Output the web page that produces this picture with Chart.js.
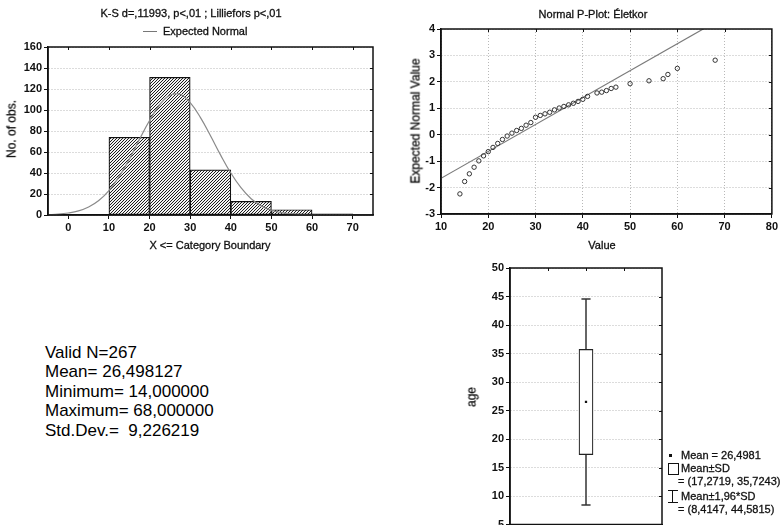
<!DOCTYPE html>
<html>
<head>
<meta charset="utf-8">
<script src="https://cdn.jsdelivr.net/npm/chart.js@4.4.1/dist/chart.umd.min.js"></script>
<style>
  html, body { margin:0; padding:0; background:#fff; width:780px; height:525px; overflow:hidden; position:relative;
    font-family:'Liberation Sans', Arial, sans-serif; color:#111; }
  canvas { position:absolute; display:block; }
  .t { position:absolute; font-size:11px; white-space:pre; line-height:13px; -webkit-text-stroke:0.3px #111; }
  .c { transform:translate(-50%,-50%); }
  .rot { transform:translate(-50%,-50%) rotate(-90deg); font-size:12px; }
  .stats { position:absolute; left:45px; top:343px; font-size:17px; line-height:19.4px; white-space:pre; color:#000; }
  .sym { position:absolute; }
</style>
</head>
<body>

<canvas id="hist" width="390" height="250" style="left:0;top:0"></canvas>
<canvas id="pplot" width="380" height="250" style="left:400px;top:0"></canvas>
<canvas id="boxp" width="380" height="310" style="left:400px;top:250px"></canvas>

<!-- histogram texts -->
<div class="t c" style="left:191px;top:13px">K-S d=,11993, p&lt;,01 ; Lilliefors p&lt;,01</div>
<div class="sym" style="left:143px;top:31px;width:14px;border-top:1px solid #777"></div>
<div class="t" style="left:163px;top:25px">Expected Normal</div>
<div class="t rot" style="left:12px;top:129px">No. of obs.</div>
<div class="t c" style="left:210px;top:245px">X &lt;= Category Boundary</div>

<!-- p-plot texts -->
<div class="t c" style="left:593px;top:14px">Normal P-Plot: Életkor</div>
<div class="t rot" style="left:416px;top:121px">Expected Normal Value</div>
<div class="t c" style="left:602px;top:245px">Value</div>

<!-- box plot texts -->
<div class="t rot" style="left:472px;top:397px">age</div>
<div class="sym" style="left:669px;top:454px;width:3px;height:3px;background:#111"></div>
<div class="t" style="left:681px;top:449px">Mean = 26,4981</div>
<div class="sym" style="left:668px;top:463px;width:9px;height:10px;border:1px solid #111"></div>
<div class="t" style="left:681px;top:462px">Mean±SD</div>
<div class="t" style="left:678px;top:475px">= (17,2719, 35,7243)</div>
<div class="sym" style="left:672px;top:490px;width:0;height:12px;border-left:1.5px solid #111"></div>
<div class="sym" style="left:668px;top:490px;width:10px;border-top:1.5px solid #111"></div>
<div class="sym" style="left:668px;top:502px;width:10px;border-top:1.5px solid #111"></div>
<div class="t" style="left:681px;top:490px">Mean±1,96*SD</div>
<div class="t" style="left:678px;top:503px">= (8,4147, 44,5815)</div>

<!-- descriptive stats -->
<div class="stats">Valid N=267
Mean= 26,498127
Minimum= 14,000000
Maximum= 68,000000
Std.Dev.=  9,226219</div>

<script>
// ─── data ───────────────────────────────────────────────────────
// histogram: bin centres (10-wide bins) and counts
const histBins   = [15, 25, 35, 45, 55, 65]
const histCounts = [74, 131, 43, 13, 5, 1]
const histTicksX = [0, 10, 20, 30, 40, 50, 60, 70]

// expected normal curve
const normX = [-5, -2.5, 0, 2.5, 5, 7.5, 10, 12.5, 15, 17.5, 20, 22.5, 25, 27.5, 30, 32.5, 35, 37.5, 40, 42.5, 45, 47.5, 50, 52.5, 55, 60, 65, 70, 75]
const normY = [0.3, 0.8, 1.9, 3.9, 7.6, 13.8, 23.3, 36.5, 53, 72, 90, 105, 114, 115, 107, 93, 75.5, 57, 40, 26, 15.5, 8.7, 4.5, 2.2, 1, 0.2, 0, 0, 0]

// normal probability plot
const ppX = [14, 15, 16, 17, 18, 19, 20, 21, 22, 23, 24, 25, 26, 27, 28, 29, 30, 31, 32, 33, 34, 35, 36, 37, 38, 39, 40, 41, 43, 44, 45, 46, 47, 50, 54, 57, 58, 60, 68]
const ppY = [-2.24, -1.77, -1.48, -1.23, -0.99, -0.80, -0.64, -0.48, -0.33, -0.18, -0.05, 0.06, 0.16, 0.24, 0.36, 0.46, 0.66, 0.73, 0.79, 0.85, 0.94, 1.01, 1.07, 1.13, 1.19, 1.26, 1.34, 1.45, 1.58, 1.61, 1.67, 1.75, 1.80, 1.93, 2.04, 2.12, 2.28, 2.51, 2.82]
const refLineX = [10, 80]
const refLineY = [-1.65, 5.48]

// box plot (age)
const boxMean  = 26.4981
const boxSD    = [17.2719, 35.7243]
const boxWhisk = [8.4147, 44.5815]

// ─── shared bits ────────────────────────────────────────────────
const FONT = { family: "'Liberation Sans', Arial, sans-serif", size: 11, weight: 'bold' }
const INK  = '#111'

// black frame round the plot area, plus short inner ticks on top/right
const framePlugin = {
  id: 'frame',
  afterDraw(chart) {
    const { ctx, chartArea: a, scales } = chart
    ctx.save()
    ctx.strokeStyle = INK
    ctx.lineWidth = 1.5
    ctx.strokeRect(a.left, a.top, a.right - a.left, a.bottom - a.top)
    ctx.lineWidth = 1
    ctx.beginPath()
    scales.x.ticks.forEach(t => {
      const px = Math.round(scales.x.getPixelForValue(t.value)) + 0.5
      if (px > a.left + 2 && px < a.right - 2) { ctx.moveTo(px, a.top); ctx.lineTo(px, a.top + 3) }
    })
    scales.y.ticks.forEach(t => {
      const py = Math.round(scales.y.getPixelForValue(t.value)) + 0.5
      if (py > a.top + 2 && py < a.bottom - 2) { ctx.moveTo(a.right, py); ctx.lineTo(a.right - 3, py) }
    })
    ctx.stroke()
    ctx.restore()
  }
}

// dense "////" hatching like the original bars
function hatch() {
  const n = 3
  const c = document.createElement('canvas')
  c.width = n; c.height = n
  const g = c.getContext('2d')
  g.fillStyle = '#f4f4f4'; g.fillRect(0, 0, n, n)
  g.strokeStyle = '#1e1e1e'; g.lineWidth = 1
  g.beginPath()
  g.moveTo(0, n); g.lineTo(n, 0)
  g.moveTo(-1, 1); g.lineTo(1, -1)
  g.moveTo(n - 1, n + 1); g.lineTo(n + 1, n - 1)
  g.stroke()
  return g.createPattern(c, 'repeat')
}

function axis(extra) {
  return Object.assign({
    offset: false,
    ticks: { color: INK, font: FONT, padding: 2 },
    grid: { color: '#b8b8b8', tickColor: INK, tickLength: 4, tickWidth: 1, offset: false },
    border: { display: true, color: INK, width: 1.5, dash: [1, 2] },
  }, extra)
}

const base = {
  responsive: false,
  animation: false,
  events: [],
  plugins: { legend: { display: false }, tooltip: { enabled: false } },
}

// ─── HISTOGRAM ──────────────────────────────────────────────────
new Chart(document.getElementById('hist'), {
  type: 'bar',
  data: {
    datasets: [
      {
        type: 'line',
        data: normX.map((x, i) => ({ x, y: normY[i] })),
        borderColor: '#8a8a8a', borderWidth: 1.2, pointRadius: 0, tension: 0.4,
      },
      {
        data: histBins.map((x, i) => ({ x, y: histCounts[i] })),
        backgroundColor: hatch(), borderColor: INK, borderWidth: 1.2, borderSkipped: false,
        barPercentage: 1, categoryPercentage: 1,
      },
    ]
  },
  options: Object.assign({}, base, {
    layout: { padding: { top: 47, right: 17, left: 0, bottom: 0 } },
    scales: {
      x: axis({
        type: 'linear', min: -5, max: 75,
        afterFit: s => { s.height = 35 },
        afterBuildTicks: s => { s.ticks = histTicksX.map(v => ({ value: v })) },
        grid: { drawOnChartArea: false, tickColor: INK, tickLength: 4, offset: false },
      }),
      y: axis({
        min: 0, max: 160,
        afterFit: s => { s.width = 48 },
        ticks: { color: INK, font: FONT, padding: 2, stepSize: 20 },
      }),
    }
  }),
  plugins: [framePlugin]
})

// ─── NORMAL P-PLOT ──────────────────────────────────────────────
new Chart(document.getElementById('pplot'), {
  type: 'scatter',
  data: {
    datasets: [
      {
        data: ppX.map((x, i) => ({ x, y: ppY[i] })),
        pointRadius: 2.2, borderWidth: 1, borderColor: '#333', backgroundColor: 'rgba(0,0,0,0)',
      },
      {
        type: 'line',
        data: refLineX.map((x, i) => ({ x, y: refLineY[i] })),
        borderColor: '#7a7a7a', borderWidth: 1.2, pointRadius: 0,
      },
    ]
  },
  options: Object.assign({}, base, {
    layout: { padding: { top: 29, right: 7, left: 0, bottom: 0 } },
    scales: {
      x: axis({
        type: 'linear', min: 10, max: 80,
        afterFit: s => { s.height = 36 },
        ticks: { color: INK, font: FONT, padding: 2, stepSize: 10 },
      }),
      y: axis({
        min: -3, max: 4,
        afterFit: s => { s.width = 41 },
        ticks: { color: INK, font: FONT, padding: 2, stepSize: 1 },
      }),
    }
  }),
  plugins: [framePlugin]
})

// ─── BOX PLOT ───────────────────────────────────────────────────
const capHalf = 0.12
new Chart(document.getElementById('boxp'), {
  type: 'bar',
  data: {
    datasets: [
      {
        type: 'scatter',
        data: [{ x: 2, y: boxMean }],
        pointStyle: 'rect', pointRadius: 1.6, backgroundColor: INK, borderColor: INK, borderWidth: 0,
      },
      {
        data: [{ x: 2, y: boxSD }],
        backgroundColor: '#fff', borderColor: '#222', borderWidth: 1.2, borderSkipped: false,
        barThickness: 14,
      },
      {
        type: 'line',
        data: [{ x: 2, y: boxWhisk[0] }, { x: 2, y: boxWhisk[1] }],
        borderColor: '#333', borderWidth: 1.5, pointRadius: 0,
      },
      {
        type: 'line',
        data: [{ x: 2 - capHalf, y: boxWhisk[1] }, { x: 2 + capHalf, y: boxWhisk[1] }],
        borderColor: '#333', borderWidth: 1.5, pointRadius: 0,
      },
      {
        type: 'line',
        data: [{ x: 2 - capHalf, y: boxWhisk[0] }, { x: 2 + capHalf, y: boxWhisk[0] }],
        borderColor: '#333', borderWidth: 1.5, pointRadius: 0,
      },
    ]
  },
  options: Object.assign({}, base, {
    layout: { padding: { top: 18, right: 118, left: 0, bottom: 0 } },
    scales: {
      x: axis({
        type: 'linear', min: 0, max: 4,
        afterFit: s => { s.height = 35.5 },
        ticks: { color: INK, font: FONT, padding: 2, stepSize: 1, callback: () => '' },
        grid: { drawOnChartArea: false, tickColor: INK, tickLength: 4, offset: false },
      }),
      y: axis({
        min: 5, max: 50,
        afterFit: s => { s.width = 110 },
        ticks: { color: INK, font: FONT, padding: 2, stepSize: 5 },
      }),
    }
  }),
  plugins: [framePlugin]
})
</script>
</body>
</html>
